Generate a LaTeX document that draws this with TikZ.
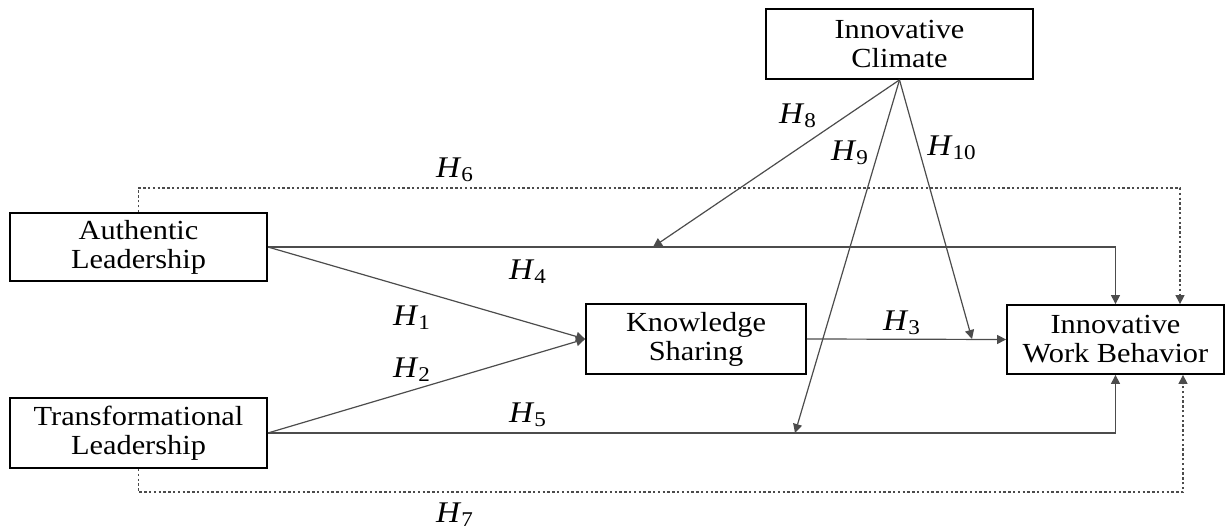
\documentclass[tikz,border=0pt]{standalone}
\usepackage{fontspec}
\setmainfont{Liberation Serif}[FakeStretch=1.1]
\usetikzlibrary{arrows.meta}
\tikzset{
  vbox/.style={draw=black, line width=0.9pt, inner sep=0pt, align=center,
    font=\fontsize{13.8}{14.5}\selectfont},
  conn/.style={draw=black!70, line width=0.6pt},
  arr/.style={conn, -{Triangle[length=4.5pt,width=4.5pt]}},
  dotline/.style={draw=black!70, line width=0.6pt, dash pattern=on 1.2pt off 1.2pt, -{Triangle[length=4.5pt,width=4.5pt]}},
  hlab/.style={inner sep=0pt, font=\fontsize{15}{16}\selectfont}
}
\newcommand{\hyp}[1]{\textit{H}\textsubscript{#1}}
\begin{document}
\begin{tikzpicture}[x=0.5pt,y=-0.5pt]
\useasboundingbox (0,0) rectangle (1226,529);
% boxes
\node[vbox, minimum width=128.5pt, minimum height=34pt] (AL) at (138.5,247) {Authentic\\Leadership};
\node[vbox, minimum width=128.5pt, minimum height=35pt] (TL) at (138.5,433) {Transformational\\Leadership};
\node[vbox, minimum width=110pt, minimum height=35pt] (KS) at (696,339) {Knowledge\\Sharing};
\node[vbox, minimum width=133.5pt, minimum height=35pt] (IC) at (899.5,44) {Innovative\\Climate};
\node[vbox, minimum width=108.5pt, minimum height=34.5pt] (IWB) at (1115.5,339.5) {Innovative\\Work Behavior};
% helper coordinates
\coordinate (d6) at (1180,188);
\coordinate (d7) at (1183,492);
\coordinate (t8) at (653,247);
\coordinate (t9) at (795,433);
\coordinate (t10) at (972,339);
% connectors
\draw[arr] (AL.east) -| (IWB.north);
\draw[arr] (TL.east) -| (IWB.south);
\draw[arr] (AL.east) -- (KS.west);
\draw[arr] (TL.east) -- (KS.west);
\draw[arr] (KS.east) -- (IWB.west);
\draw[dotline] (AL.north) |- (d6) -- (d6 |- IWB.north);
\draw[dotline] (TL.south) |- (d7) -- (d7 |- IWB.south);
\draw[arr] (IC.south) -- (t8);
\draw[arr] (IC.south) -- (t9);
\draw[arr] (IC.south) -- (t10);
% labels
\node[hlab] (h1) at (412,318) {\hyp{1}};
\node[hlab] (h2) at (412,370) {\hyp{2}};
\node[hlab] (h3) at (902,323) {\hyp{3}};
\node[hlab] (h4) at (528,272) {\hyp{4}};
\node[hlab] (h5) at (528,415) {\hyp{5}};
\node[hlab] (h6) at (455,170) {\hyp{6}};
\node[hlab] (h7) at (455,515) {\hyp{7}};
\node[hlab] (h8) at (798,116) {\hyp{8}};
\node[hlab] (h9) at (850,153) {\hyp{9}};
\node[hlab] (h10) at (952,148) {\hyp{10}};
\end{tikzpicture}
\end{document}
